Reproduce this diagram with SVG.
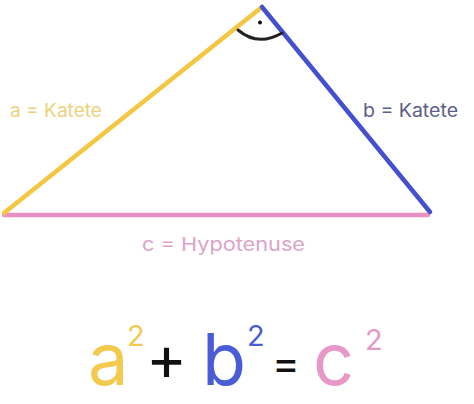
<svg xmlns="http://www.w3.org/2000/svg" width="474" height="404" viewBox="0 0 474 404">
<style>
.lbl{font-family:Inter,"Open Sans","Liberation Sans",sans-serif;font-size:18.5px}
.big{font-family:Inter,"Open Sans","Liberation Sans",sans-serif;font-size:72px}
.sup{font-family:Inter,"Open Sans","Liberation Sans",sans-serif;font-size:29px}
.side{fill:none;stroke-width:4.5;stroke-linecap:round}
</style>
<rect width="474" height="404" fill="#ffffff"/>
<g id="connectors">
<line id="side-c" class="side" x1="4" y1="215" x2="428" y2="215" stroke="#e690c6"/>
<line id="side-a" class="side" x1="4" y1="213" x2="262" y2="7" stroke="#f4c743"/>
<line id="side-b" class="side" x1="262" y1="7" x2="430" y2="212" stroke="#4550cf"/>
</g>
<g id="right-angle">
<path d="M238,30 Q258,47 282,33" fill="none" stroke="#222" stroke-width="3" stroke-linecap="round"/>
<circle cx="260" cy="22.5" r="2" fill="#111"/>
</g>
<g id="label-a"><text class="lbl" x="10" y="117" fill="#ecd27a" textLength="92" lengthAdjust="spacingAndGlyphs">a = Katete</text></g>
<g id="label-b"><text class="lbl" x="363" y="117" fill="#5a5e88" textLength="95" lengthAdjust="spacingAndGlyphs">b = Katete</text></g>
<g id="label-c"><text class="lbl" x="142" y="251" fill="#dca3c9" textLength="163" lengthAdjust="spacingAndGlyphs">c = Hypotenuse</text></g>
<g id="equation">
<text class="big" x="88" y="385" fill="#f4ca4e">a</text>
<text class="sup" x="127" y="346" fill="#f4ca4e">2</text>
<text class="big" x="146" y="380" fill="#111" style="font-size:62px">+</text>
<text class="big" x="202" y="385" fill="#4a5dd6">b</text>
<text class="sup" x="247" y="346" fill="#4a5dd6">2</text>
<text class="big" x="272" y="378" fill="#111" style="font-size:42px">=</text>
<text class="big" x="313" y="385" fill="#e698c6">c</text>
<text class="sup" x="365" y="350" fill="#e698c6">2</text>
</g>
</svg>
